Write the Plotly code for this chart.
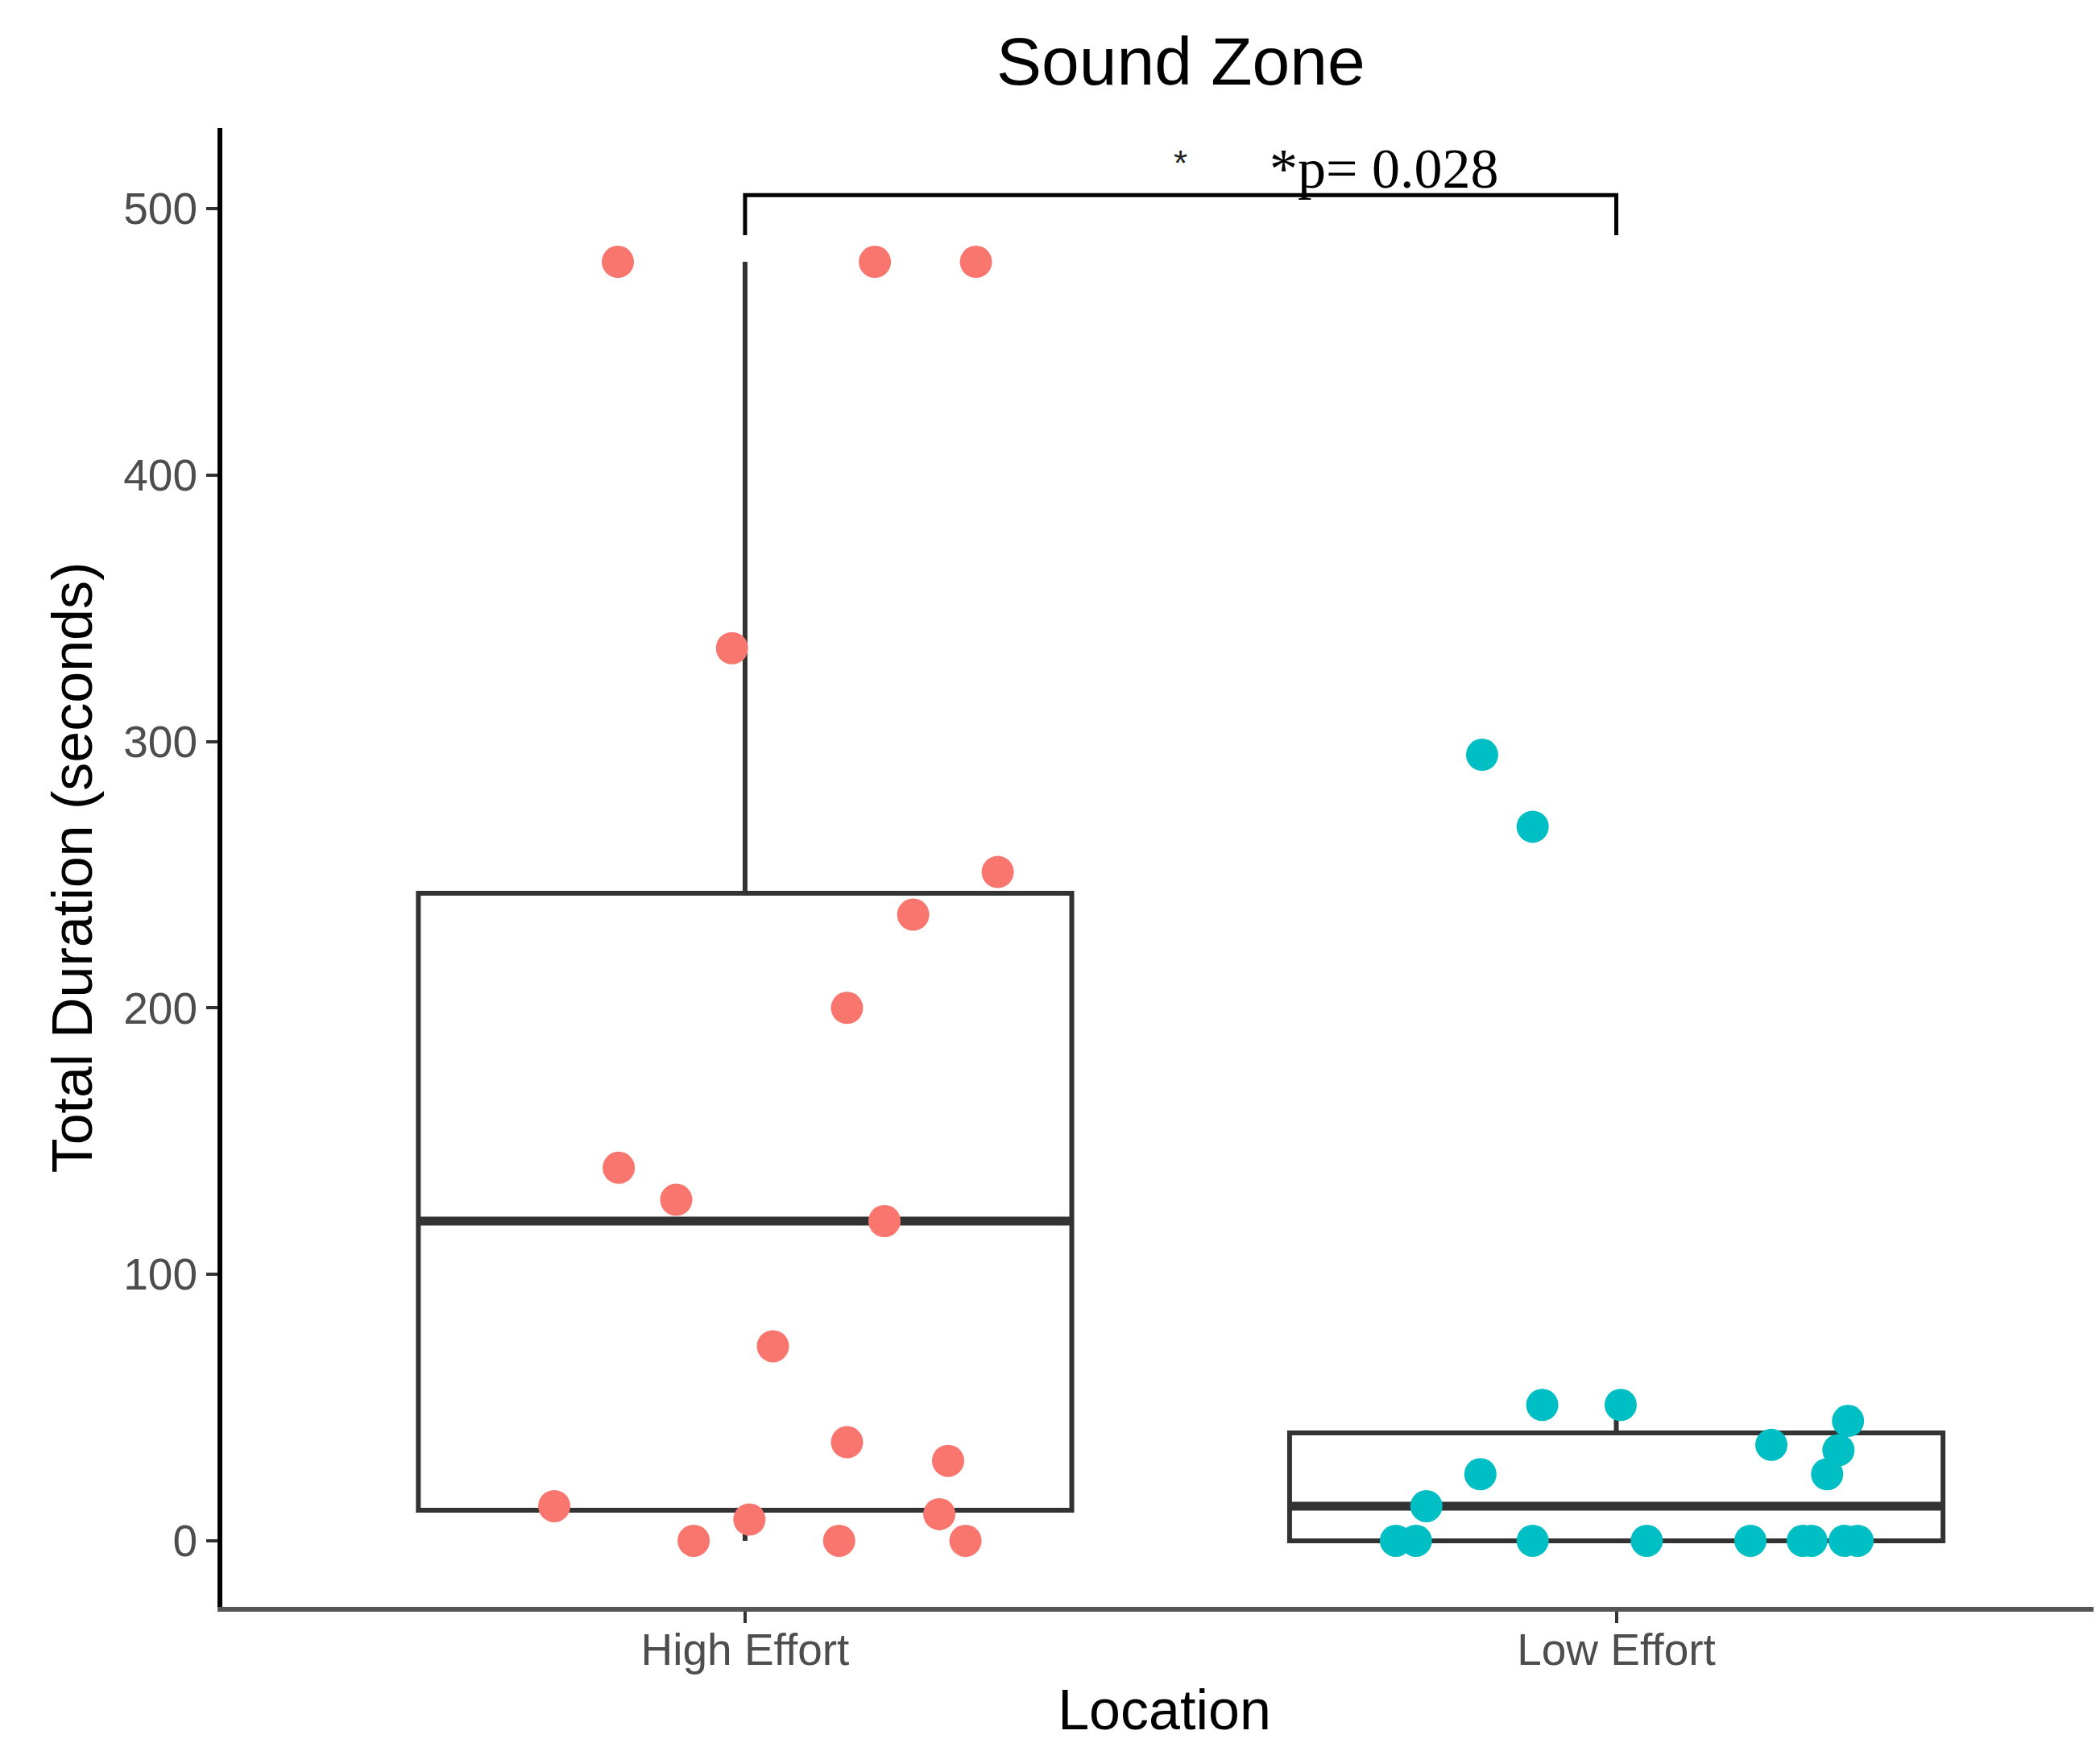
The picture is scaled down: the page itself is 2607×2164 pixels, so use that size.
import numpy as np
import plotly.graph_objects as go

# ---------------- data ----------------
categories = ["High Effort", "Low Effort"]
cat_pos = [1, 2]

high_vals = [480, 480, 480, 335, 251, 235, 200, 140, 128, 120, 73, 37, 30, 13, 8, 10, 0, 0, 0]
high_jitter = [-0.146, 0.149, 0.265, -0.015, 0.290, 0.193, 0.117, -0.145, -0.079, 0.160,
               0.032, 0.117, 0.233, -0.219, 0.005, 0.223, -0.059, 0.108, 0.253]

low_vals = [295, 268, 51, 51, 45, 36, 34, 25, 25, 13, 0, 0, 0, 0, 0, 0, 0, 0, 0]
low_jitter = [-0.154, -0.096, -0.085, 0.005, 0.266, 0.178, 0.255, 0.242, -0.156, -0.218,
              -0.253, -0.230, -0.096, 0.035, 0.154, 0.214, 0.224, 0.262, 0.277]

y_ticks = [0, 100, 200, 300, 400, 500]
sig_y = 505          # bracket height
sig_tip = 15         # bracket tip length
sig_label = "*"
p_label = "*p= 0.028"

colors = ["#F8766D", "#00BFC4"]
box_width = 0.75
FONT = "Liberation Sans"

fig = go.Figure()

groups = [high_vals, low_vals]
jitters = [high_jitter, low_jitter]

# boxes (ggplot-style stats: type-7 quantiles, whiskers to most extreme point within 1.5 IQR)
for pos, vals in zip(cat_pos, groups):
    v = np.array(vals, dtype=float)
    q1, med, q3 = np.percentile(v, [25, 50, 75])
    iqr = q3 - q1
    lo = v[v >= q1 - 1.5 * iqr].min()
    hi = v[v <= q3 + 1.5 * iqr].max()
    fig.add_trace(go.Box(
        x=[pos], q1=[q1], median=[med], q3=[q3], lowerfence=[lo], upperfence=[hi],
        width=box_width, fillcolor="white", boxpoints=False,
        line=dict(color="#333333", width=6), whiskerwidth=0, showlegend=False,
        hoverinfo="skip"))
    # thicker median line
    fig.add_trace(go.Scatter(
        x=[pos - box_width / 2, pos + box_width / 2], y=[med, med], mode="lines",
        line=dict(color="#333333", width=11), showlegend=False, hoverinfo="skip"))

# jittered points
for pos, vals, jit, col in zip(cat_pos, groups, jitters, colors):
    fig.add_trace(go.Scatter(
        x=[pos + j for j in jit], y=vals, mode="markers",
        marker=dict(color=col, size=40, line=dict(width=0)),
        showlegend=False))

# significance bracket
fig.add_trace(go.Scatter(
    x=[cat_pos[0], cat_pos[0], cat_pos[1], cat_pos[1]],
    y=[sig_y - sig_tip, sig_y, sig_y, sig_y - sig_tip],
    mode="lines", line=dict(color="black", width=5), showlegend=False, hoverinfo="skip"))

fig.add_annotation(x=(cat_pos[0] + cat_pos[1]) / 2, y=517, xref="x", yref="y",
                   text=sig_label, showarrow=False, font=dict(family=FONT, size=44, color="#222222"),
                   xanchor="center", yanchor="middle")
fig.add_annotation(x=1.600, y=515, xref="x", yref="y", text=p_label, showarrow=False,
                   font=dict(family="Liberation Serif", size=70, color="black"),
                   xanchor="left", yanchor="middle")

# title
fig.add_annotation(x=1.5, y=1.0452, xref="x", yref="paper", text="Sound Zone", showarrow=False,
                   font=dict(family=FONT, size=84, color="black"), xanchor="center", yanchor="middle")

fig.update_layout(
    width=2607, height=2164,
    margin=dict(l=268, r=0, t=151, b=177),
    plot_bgcolor="white", paper_bgcolor="white",
    font=dict(family=FONT),
    xaxis=dict(
        range=[0.4, 2.5626], tickvals=cat_pos, ticktext=categories,
        showgrid=False, zeroline=False, showline=True, linecolor="#555555", linewidth=6,
        ticks="outside", ticklen=14, tickwidth=4, tickcolor="#333333",
        tickfont=dict(family=FONT, size=55, color="#4D4D4D"), ticklabelstandoff=-14,
        title=dict(text="Location", font=dict(family=FONT, size=70, color="black"), standoff=22),
    ),
    yaxis=dict(
        range=[-24.8, 530.2], tickvals=y_ticks,
        showgrid=False, zeroline=False, showline=True, linecolor="black", linewidth=6,
        ticks="outside", ticklen=14, tickwidth=4, tickcolor="#333333",
        tickfont=dict(family=FONT, size=55, color="#4D4D4D"),
        title=dict(text="Total Duration (seconds)", font=dict(family=FONT, size=70, color="black"), standoff=18),
    ),
)

fig.write_html("out.html")
